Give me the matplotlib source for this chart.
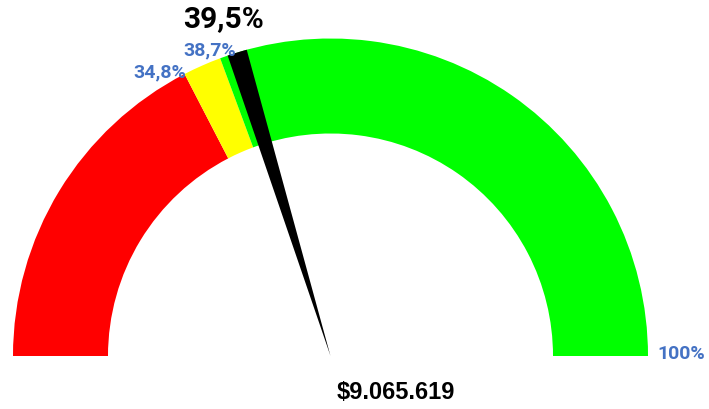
import matplotlib.pyplot as plt
from matplotlib.patches import Wedge

# gauge data (percent of target)
bands = [0.0, 34.8, 38.7, 100.0]
band_colors = ["#ff0000", "#ffff00", "#00ff00"]
needle_value = 39.5
needle_span = 2.0
value_label = "39,5%"
threshold_labels = ["34,8%", "38,7%", "100%"]
amount_label = "$9.065.619"

W, H = 709, 410
fig = plt.figure(figsize=(W / 100, H / 100), dpi=100)
ax = fig.add_axes([0, 0, 1, 1])
ax.set_xlim(0, W)
ax.set_ylim(0, H)
ax.set_aspect("equal")
ax.axis("off")

cx, cy = 330.5, H - 357
r_out, ring = 317.5, 95


def ang(v):
    return 180.0 - 1.8 * v


for lo, hi, c in zip(bands[:-1], bands[1:], band_colors):
    ax.add_patch(Wedge((cx, cy), r_out, ang(hi), ang(lo), width=ring,
                       facecolor=c, edgecolor="none"))

# needle drawn as a thin slice from the centre
ax.add_patch(Wedge((cx, cy), r_out, ang(needle_value + needle_span),
                   ang(needle_value), facecolor="black", edgecolor="none",
                   zorder=3))

blue = "#4472c4"
lab = dict(ha="center", va="center", fontweight="bold", family="Roboto")
ax.text(223, H - 19, value_label, fontsize=21.5, color="black", **lab)
ax.text(210, H - 50, threshold_labels[1], fontsize=14, color=blue, **lab)
ax.text(160, H - 72, threshold_labels[0], fontsize=14, color=blue, **lab)
ax.text(681, H - 354, threshold_labels[2], fontsize=14, color=blue, **lab)
ax.text(396, H - 393, amount_label, ha="center", va="center",
        fontsize=17, fontweight="bold", family="Liberation Sans",
        color="black")

fig.savefig("out.png", dpi=100)
